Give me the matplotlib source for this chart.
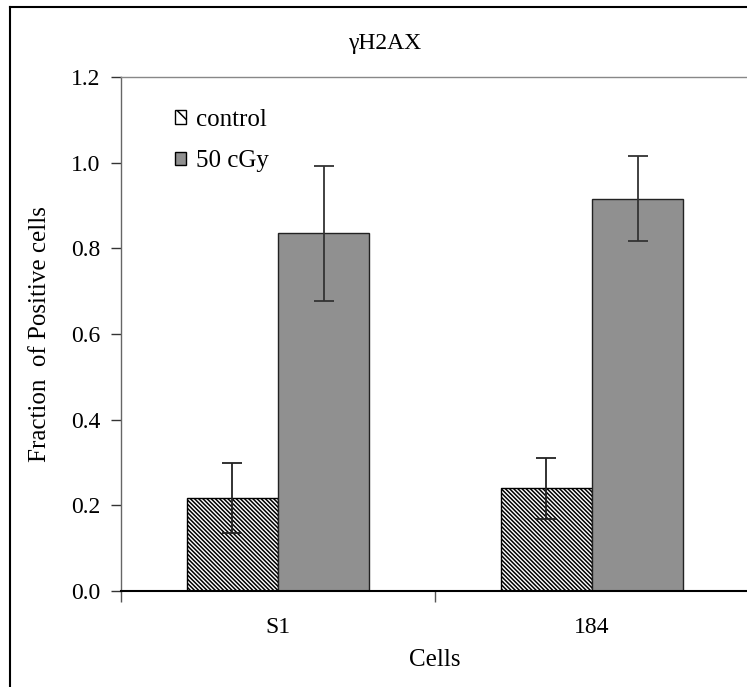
import matplotlib
matplotlib.use("Agg")
import matplotlib.pyplot as plt
from matplotlib.patches import Patch
from matplotlib.lines import Line2D
import numpy as np

categories = ['S1', '184']
control = [0.217, 0.240]
control_err = [0.082, 0.071]
irradiated = [0.835, 0.916]
irradiated_err = [0.158, 0.100]
series_labels = ['control', '50 cGy']
yticks = [0.0, 0.2, 0.4, 0.6, 0.8, 1.0, 1.2]

plt.rcParams['font.family'] = ['Liberation Serif', 'DejaVu Serif']
plt.rcParams['hatch.linewidth'] = 1.1

W, H = 747, 687
fig = plt.figure(figsize=(W / 100, H / 100), dpi=100)
ax = fig.add_axes([121 / W, 1 - 591 / H, 628 / W, (591 - 77) / H])

HATCH = '\\' * 8

x = np.arange(len(categories))
bw = 0.29
ax.bar(x - bw / 2, control, bw, color='white', edgecolor='black', hatch=HATCH,
       linewidth=1.0, label=series_labels[0], zorder=2)
ax.bar(x + bw / 2, irradiated, bw, color='#909090', edgecolor='#222222',
       linewidth=1.0, label=series_labels[1], zorder=2)
ax.errorbar(x - bw / 2, control, yerr=control_err, fmt='none', ecolor='#222222',
            elinewidth=1.3, capsize=7.5, capthick=1.3, zorder=3)
ax.errorbar(x + bw / 2, irradiated, yerr=irradiated_err, fmt='none', ecolor='#333333',
            elinewidth=1.3, capsize=7.5, capthick=1.3, zorder=3)

ax.set_xlim(-0.5, len(categories) - 0.5)
ax.set_ylim(0, 1.2)
ax.set_yticks(yticks)
ax.set_yticklabels([f'{v:.1f}' for v in yticks])
ax.set_xticks(x)
ax.set_xticklabels(categories)
ax.set_xticks(np.arange(len(categories) + 1) - 0.5, minor=True)
ax.tick_params(axis='x', which='major', length=0, pad=19, labelsize=17)
ax.tick_params(axis='x', which='minor', length=8, width=1.0, color='#555555', direction='out')
ax.tick_params(axis='y', length=7, width=1.0, color='#333333', pad=8, labelsize=17)

ax.spines['top'].set_color('#888888')
ax.spines['top'].set_linewidth(1.0)
ax.spines['left'].set_color('#666666')
ax.spines['left'].set_linewidth(1.0)
ax.spines['bottom'].set_color('black')
ax.spines['bottom'].set_linewidth(1.5)
ax.spines['right'].set_visible(False)

ax.set_ylabel('Fraction  of Positive cells', fontsize=18, labelpad=14)
ax.set_xlabel('Cells', fontsize=18, labelpad=8)
fig.text(385 / W, 1 - 43 / H, '\u03b3H2AX', ha='center', va='center', fontsize=17)

handles = [Patch(facecolor='white', edgecolor='black', hatch='\\\\', linewidth=1.0),
           Patch(facecolor='#909090', edgecolor='black', linewidth=1.0)]
ax.legend(handles, series_labels, loc='upper left', bbox_to_anchor=(0.086, 0.938),
          borderaxespad=0, borderpad=0,
          frameon=False, fontsize=18, handlelength=0.45, handleheight=0.45,
          handletextpad=0.4, labelspacing=0.78)

# figure frame (left and top edges visible)
fig.add_artist(Line2D([10 / W, 10 / W], [0, 1 - 7 / H], transform=fig.transFigure,
                      color='black', linewidth=1.5))
fig.add_artist(Line2D([10 / W, 1], [1 - 7 / H, 1 - 7 / H], transform=fig.transFigure,
                      color='black', linewidth=1.5))

fig.savefig('out.png', dpi=100)
